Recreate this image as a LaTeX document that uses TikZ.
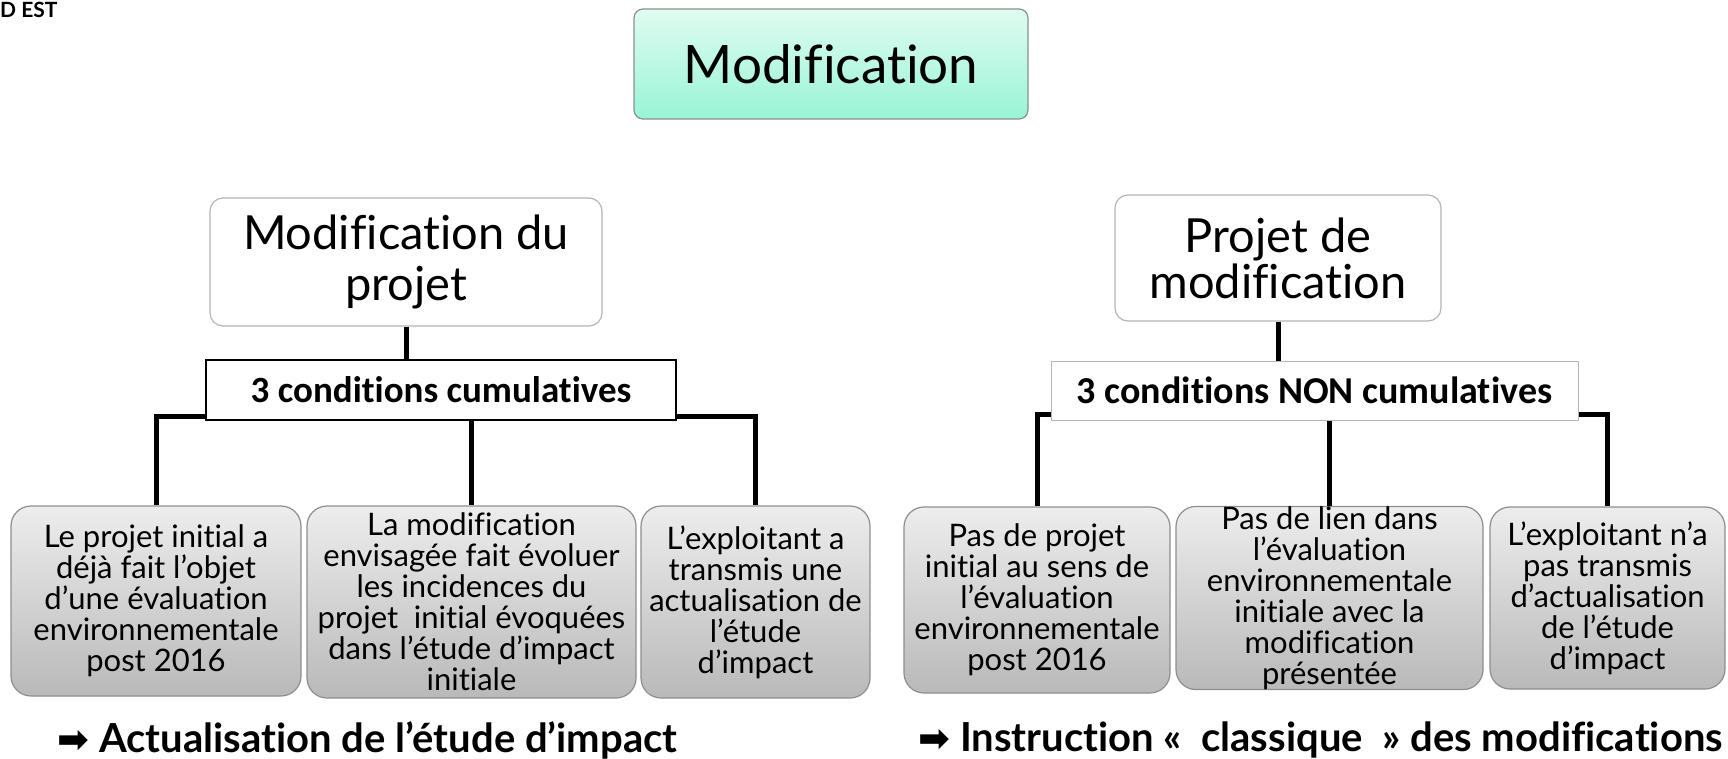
\documentclass[tikz,border=0pt]{standalone}
\usepackage{fontspec}
\setmainfont{Lato}[Ligatures=NoCommon]
\newfontfamily\calib{Carlito}[Ligatures=NoCommon]
\newfontfamily\dejavu{DejaVu Sans}
\usetikzlibrary{calc}
\definecolor{mintTop}{HTML}{E0FCF1}
\definecolor{mintBot}{HTML}{98F4D6}
\definecolor{greyTop}{HTML}{EDEDED}
\definecolor{greyBot}{HTML}{B9B9B9}
\definecolor{borderGrey}{HTML}{8E8E8E}
\definecolor{lightBorder}{HTML}{B5B5B5}
\tikzset{
  topbox/.style={draw=borderGrey, line width=1.2pt, rounded corners=9pt, top color=mintTop, bottom color=mintBot,
    font=\fontsize{53}{58}\selectfont, inner sep=0pt},
  headbox/.style={draw=lightBorder, line width=1.2pt, rounded corners=13pt, fill=white, align=center, inner sep=0pt},
  condL/.style={draw=black, line width=2.5pt, fill=white, font=\calib\bfseries\fontsize{37}{38}\selectfont, inner sep=0pt},
  condR/.style={draw=lightBorder, line width=1pt, fill=white, font=\calib\bfseries\fontsize{38}{40}\selectfont, inner sep=0pt},
  leaf/.style={draw=borderGrey, line width=1.2pt, rounded corners=20pt, top color=greyTop, bottom color=greyBot,
    font=\fontsize{31}{31}\selectfont, align=center, inner sep=0pt},
  conn/.style={line width=5pt, black},
  result/.style={anchor=west, font=\bfseries\fontsize{40}{42}\selectfont, inner sep=0pt},
}
\begin{document}
\begin{tikzpicture}[x=1pt,y=-1pt]
\useasboundingbox (0,0) rectangle (1728,758);
\node[anchor=west, font=\bfseries\fontsize{21}{21}\selectfont, inner sep=0pt] (logo) at (0,10) {D EST};

\node[topbox, minimum width=394pt, minimum height=110pt] (top) at (831,64) {Modification};

\node[headbox, font=\fontsize{47}{51}\selectfont, minimum width=392pt, minimum height=128pt] (lhead) at (406,262) {Modification du\\projet};
\node[headbox, font=\fontsize{47}{46}\selectfont, minimum width=326pt, minimum height=126pt] (rhead) at (1278,258) {Projet de\\modification};

\node[condL, minimum width=470pt, minimum height=60pt] (lcond) at (441,390) {3 conditions cumulatives};
\node[condR, minimum width=527pt, minimum height=59pt] (rcond) at (1314.5,390.5) {3 conditions NON cumulatives};

\node[leaf, minimum width=290pt, minimum height=190pt] (b1) at (156,601) {Le projet initial a\\déjà fait l’objet\\d’une évaluation\\environnementale\\post 2016};
\node[leaf, minimum width=329pt, minimum height=192pt] (b2) at (471.5,602) {La modification\\envisagée fait évoluer\\les incidences du\\projet\ \ initial évoquées\\dans l’étude d’impact\\initiale};
\node[leaf, minimum width=229pt, minimum height=192pt] (b3) at (755.5,602) {L’exploitant a\\transmis une\\actualisation de\\l’étude\\d’impact};

\node[leaf, minimum width=266pt, minimum height=186pt] (b4) at (1037,600) {Pas de projet\\initial au sens de\\l’évaluation\\environnementale\\post 2016};
\node[leaf, minimum width=307pt, minimum height=182pt] (b5) at (1329.5,598) {Pas de lien dans\\l’évaluation\\environnementale\\initiale avec la\\modification\\présentée};
\node[leaf, minimum width=235pt, minimum height=182pt] (b6) at (1607.5,598) {L’exploitant n’a\\pas transmis\\d’actualisation\\de l’étude\\d’impact};

% connectors left
\draw[conn] (lhead.south) -- (lhead.south |- lcond.north);
\draw[conn] ($(lcond.south west)+(0,-5)$) -| (b1.north);
\draw[conn] ($(lcond.south east)+(0,-5)$) -| (b3.north);
\draw[conn] (b2.north |- lcond.south) -- (b2.north);
% connectors right
\draw[conn] (rhead.south) -- (rhead.south |- rcond.north);
\draw[conn] ($(rcond.south west)+(0,-6)$) -| (b4.north);
\draw[conn] ($(rcond.south east)+(0,-6)$) -| (b6.north);
\draw[conn] (b5.north |- rcond.south) -- (b5.north);
% redraw boxes over line ends
\node[condL, minimum width=470pt, minimum height=60pt] at (lcond) {3 conditions cumulatives};
\node[condR, minimum width=527pt, minimum height=59pt] at (rcond) {3 conditions NON cumulatives};

\node[result] (resL) at (57,740) {{\dejavu\fontsize{38}{38}\selectfont\symbol{"27A1}}\hspace{10pt}Actualisation de l’étude d’impact};
\node[result] (resR) at (918,740) {{\dejavu\fontsize{38}{38}\selectfont\symbol{"27A1}}\hspace{10pt}Instruction «\ \ classique\ \ » des modifications};
\end{tikzpicture}
\end{document}
